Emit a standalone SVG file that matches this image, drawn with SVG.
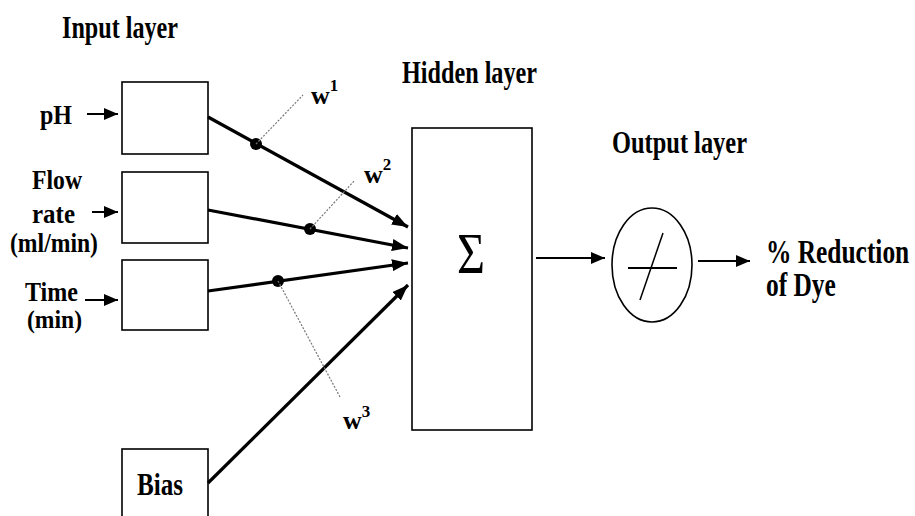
<svg xmlns="http://www.w3.org/2000/svg" width="915" height="516" viewBox="0 0 915 516">
<defs>
<style>
.t{font-family:"Liberation Serif","Times New Roman",serif;font-weight:bold;fill:#000}
.w{font-family:"Liberation Serif","Times New Roman",serif;font-weight:bold;fill:#000}
.box{fill:#fff;stroke:#000;stroke-width:1.6}
.conn{stroke:#000;stroke-width:3.2;fill:none}
.thin{stroke:#000;stroke-width:2;fill:none}
.dot{stroke:#777;stroke-width:1.2;stroke-dasharray:2 1.5;fill:none}
</style>
<marker id="ah" markerUnits="userSpaceOnUse" viewBox="0 0 16 12" refX="16" refY="6" markerWidth="16" markerHeight="12" orient="auto">
<path d="M0,0 L16,6 L0,12 z" fill="#000"/>
</marker>
<marker id="ah2" markerUnits="userSpaceOnUse" viewBox="0 0 14 12" refX="14" refY="6" markerWidth="14" markerHeight="12" orient="auto">
<path d="M0,0 L14,6 L0,12 z" fill="#000"/>
</marker>
</defs>
<rect width="915" height="516" fill="#fff"/>

<text class="t" x="62" y="38" font-size="32" textLength="116" lengthAdjust="spacingAndGlyphs">Input layer</text>
<text class="t" x="402" y="83" font-size="32" textLength="135" lengthAdjust="spacingAndGlyphs">Hidden layer</text>
<text class="t" x="612" y="153" font-size="32" textLength="135" lengthAdjust="spacingAndGlyphs">Output layer</text>

<g id="in-ph">
<text class="t" x="40" y="124" font-size="27" textLength="32" lengthAdjust="spacingAndGlyphs">pH</text>
<rect class="box" x="122" y="82" width="86" height="72"/>
</g>
<g id="in-flow">
<text class="t" x="32" y="189" font-size="27" textLength="50" lengthAdjust="spacingAndGlyphs">Flow</text>
<text class="t" x="32" y="223" font-size="27" textLength="43" lengthAdjust="spacingAndGlyphs">rate</text>
<text class="t" x="10" y="252" font-size="27" textLength="88" lengthAdjust="spacingAndGlyphs">(ml/min)</text>
<rect class="box" x="122" y="172" width="86" height="71"/>
</g>
<g id="in-time">
<text class="t" x="25" y="301" font-size="27" textLength="53" lengthAdjust="spacingAndGlyphs">Time</text>
<text class="t" x="27" y="328" font-size="25" textLength="55" lengthAdjust="spacingAndGlyphs">(min)</text>
<rect class="box" x="122" y="260" width="86" height="70"/>
</g>
<g id="bias">
<rect class="box" x="122" y="449" width="86" height="80"/>
<text class="t" x="137" y="495" font-size="32" textLength="46" lengthAdjust="spacingAndGlyphs">Bias</text>
</g>
<g id="hidden">
<rect class="box" x="412" y="128" width="120" height="302"/>
<text x="457" y="273" font-family="Liberation Serif, Times New Roman, serif" font-size="56" textLength="28" lengthAdjust="spacingAndGlyphs">Σ</text>
</g>
<g id="output">
<ellipse cx="652" cy="265" rx="40" ry="57" fill="#fff" stroke="#000" stroke-width="1.6"/>
<line x1="628" y1="268" x2="677" y2="268" stroke="#000" stroke-width="2"/>
<line x1="663" y1="233" x2="640" y2="300" stroke="#000" stroke-width="1.5"/>
</g>
<g id="result">
<text class="t" transform="translate(766,263) scale(0.77,1)" x="0" y="0" font-size="33">% Reduction</text>
<text class="t" transform="translate(766,296) scale(0.77,1)" x="0" y="0" font-size="33">of  Dye</text>
</g>

<g id="connectors">
<line class="thin" x1="87" y1="114" x2="118" y2="114" marker-end="url(#ah2)"/>
<line class="thin" x1="92" y1="212" x2="118" y2="212" marker-end="url(#ah2)"/>
<line class="thin" x1="85" y1="300" x2="118" y2="300" marker-end="url(#ah2)"/>
<line class="conn" x1="208" y1="117" x2="408" y2="227" marker-end="url(#ah)"/>
<line class="conn" x1="208" y1="210" x2="408" y2="248" marker-end="url(#ah)"/>
<line class="conn" x1="208" y1="291" x2="408" y2="263" marker-end="url(#ah)"/>
<line class="conn" x1="208" y1="483" x2="408" y2="285" marker-end="url(#ah)"/>
<line class="thin" x1="536" y1="258" x2="605" y2="258" marker-end="url(#ah2)"/>
<line class="thin" x1="698" y1="261" x2="750" y2="261" marker-end="url(#ah2)"/>
<circle cx="256" cy="144" r="6"/>
<circle cx="310" cy="229" r="6"/>
<circle cx="278" cy="281" r="6"/>
<line class="dot" x1="256" y1="144" x2="303" y2="95"/>
<line class="dot" x1="310" y1="229" x2="355" y2="180"/>
<line class="dot" x1="278" y1="281" x2="340" y2="397"/>
</g>

<g id="weights">
<text class="w" x="311" y="104" font-size="26">w<tspan font-size="17" dy="-13">1</tspan></text>
<text class="w" x="364" y="183" font-size="26">w<tspan font-size="17" dy="-13">2</tspan></text>
<text class="w" x="343" y="429" font-size="26">w<tspan font-size="17" dy="-12">3</tspan></text>
</g>
</svg>
